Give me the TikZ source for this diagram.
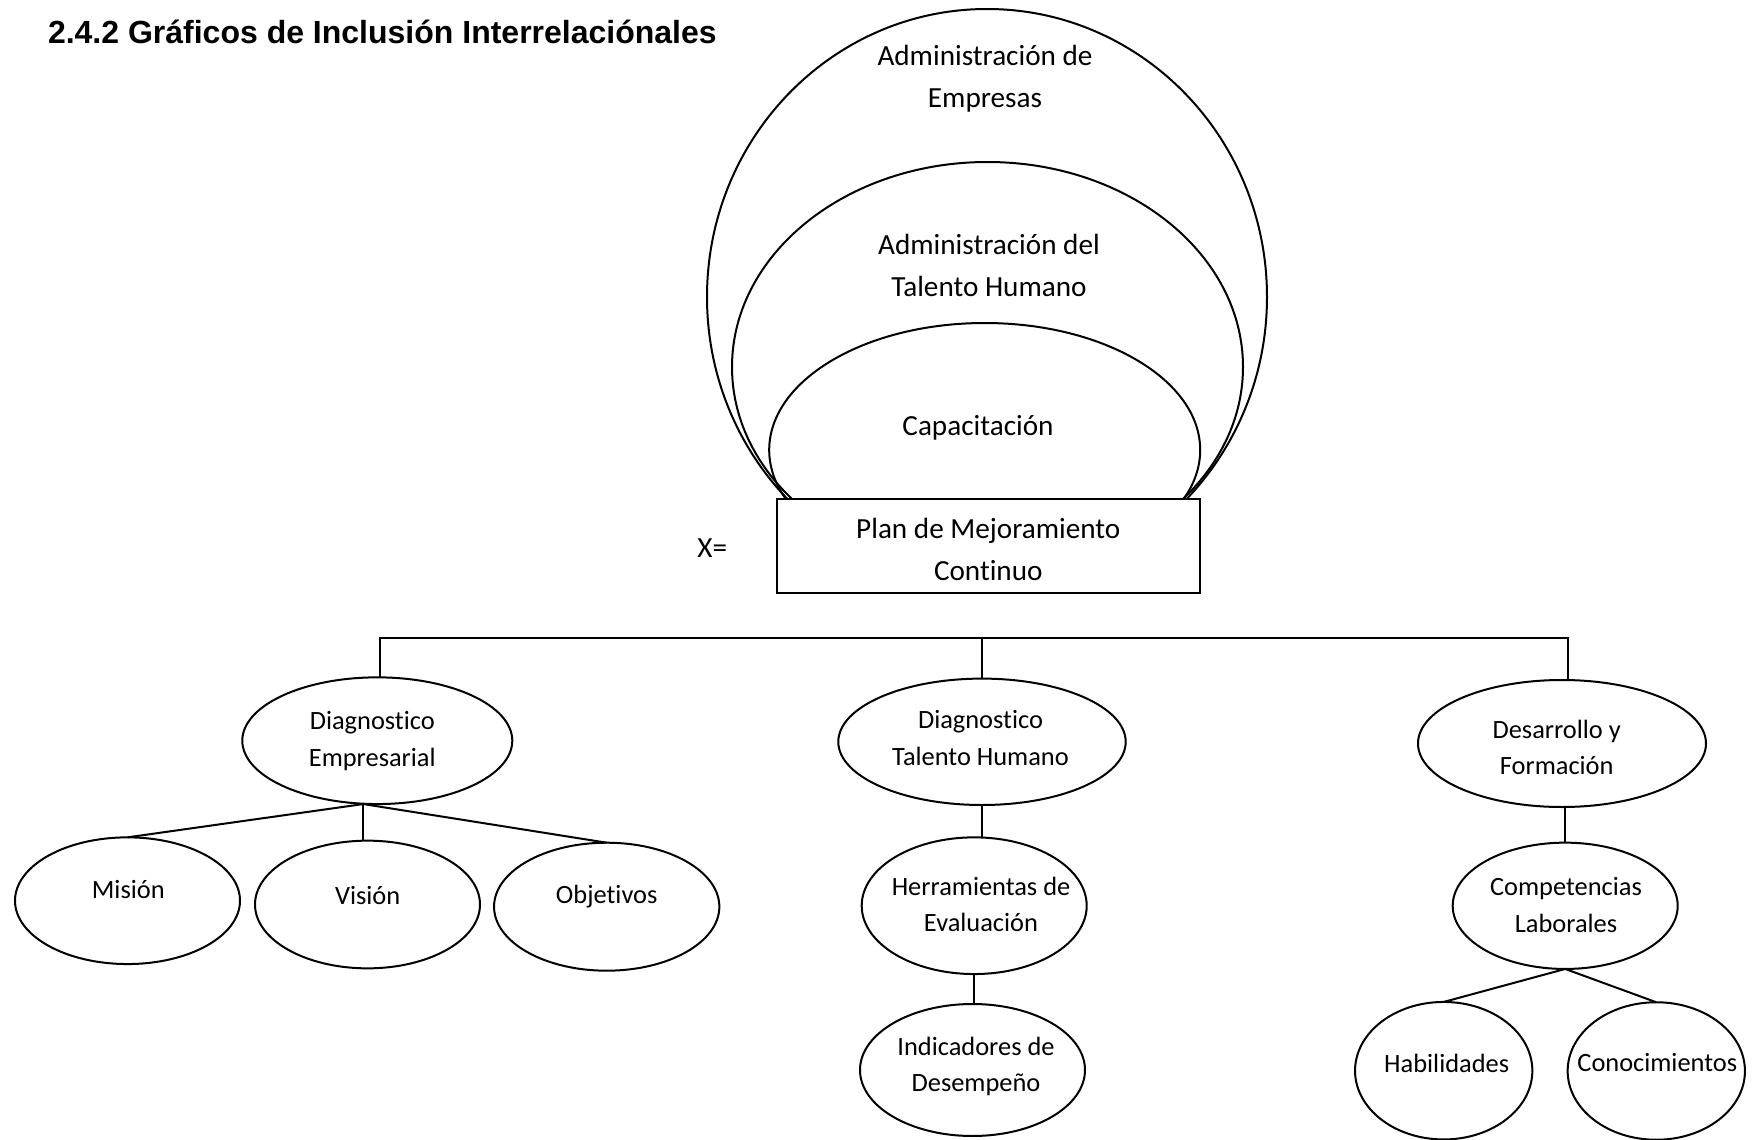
\documentclass[tikz,border=0pt]{standalone}
\usepackage{fontspec}
\setmainfont{Carlito}[Ligatures={NoCommon}]
\newfontfamily\headfont{Liberation Sans}
\usetikzlibrary{shapes.geometric,calc}

\tikzset{
  every node/.style={inner sep=0pt, outer sep=0pt},
  oval/.style 2 args={ellipse, draw, line width=1pt, minimum width=#1pt, minimum height=#2pt},
  bigtxt/.style={align=center, font=\fontsize{14.6}{21}\selectfont},
  smalltxt/.style={align=center, font=\fontsize{13.2}{18.3}\selectfont},
  link/.style={line width=1pt},
}

\begin{document}
\begin{tikzpicture}[x=0.5pt, y=-0.5pt]
\useasboundingbox (0,0) rectangle (1753,1140);

% heading
\node[anchor=base west, font=\headfont\bfseries\fontsize{16}{19}\selectfont] (head) at (48,43)
  {2.4.2 Gráficos de Inclusión Interrelaciónales};

% nested inclusion ovals, cut off at the top edge of the box
\begin{scope}
  \clip (0,0) rectangle (1753,499);
  \node[oval={280}{288}] (emp) at (987,297) {};
  \node[oval={255.5}{205}] (tal) at (987.5,367) {};
  \node[oval={215.5}{127}] (cap) at (984.7,450) {};
\end{scope}
\node[bigtxt] (empT) at (985,79) {Administración de\\Empresas};
\node[bigtxt] (talT) at (989,265) {Administración del\\Talento Humano};
\node[bigtxt] (capT) at (978,428) {Capacitación};

% central box
\node[draw, line width=1.2pt, minimum width=211.5pt, minimum height=47.25pt] (plan) at (988.5,546) {};
\node[bigtxt] (planT) at (988.3,549) {Plan de Mejoramiento\\Continuo};
\node[bigtxt] (xeq) at (712.3,548.3) {X=};

% first level
\node[oval={135}{63.35}] (de) at (377.3,740.7) {};
\node[smalltxt] (deT) at (372.3,741) {Diagnostico\\Empresarial};
\node[oval={143.7}{63.2}] (dt) at (982,741.8) {};
\node[smalltxt] (dtT) at (980.5,738) {Diagnostico\\Talento Humano};
\node[oval={144}{63.5}] (df) at (1562,743.5) {};
\node[smalltxt] (dfT) at (1556.7,747.5) {Desarrollo y\\Formación};

% bus joining the first level
\coordinate (busL) at (380,638.3);
\coordinate (busR) at (1568.3,638.3);
\draw[link] (busL |- de.north) -- (busL) -- (busR) -- (busR |- df.north);
\draw[link] (dt.north) -- (dt.north |- busL);

% left branch
\node[oval={112.5}{63.35}] (mis) at (127.5,900.7) {};
\node[smalltxt] (misT) at (128.3,890) {Misión};
\node[oval={112.5}{63.85}] (vis) at (367.5,904.5) {};
\node[smalltxt] (visT) at (367.7,896) {Visión};
\node[oval={112.65}{64}] (obj) at (606.7,906.7) {};
\node[smalltxt] (objT) at (606.7,896.7) {Objetivos};
\coordinate (dej) at ($(de.south)+(-14,0)$);
\draw[link] (dej) -- (mis.north);
\draw[link] (dej) -- (dej |- vis.north);
\draw[link] (dej) -- (obj.north);

% middle branch
\node[oval={112.5}{68.35}] (he) at (974.2,905.7) {};
\node[smalltxt] (heT) at (981,904.3) {Herramientas de\\Evaluación};
\node[oval={112.5}{66}] (ind) at (972.5,1070) {};
\node[smalltxt] (indT) at (976,1066.5) {Indicadores de\\Desempeño};
\draw[link] (dt.south) -- (dt.south |- he.north);
\draw[link] (he.south) -- (he.south |- ind.north);

% right branch
\node[oval={112.5}{63.15}] (cl) at (1565.2,905.8) {};
\node[smalltxt] (clT) at (1566,905) {Competencias\\Laborales};
\node[oval={88.65}{68.75}] (hab) at (1443.7,1070.7) {};
\node[smalltxt] (habT) at (1446.7,1063.3) {Habilidades};
\node[oval={88.65}{68.75}] (con) at (1656.3,1071) {};
\node[smalltxt] (conT) at (1657.3,1063) {Conocimientos};
\draw[link] (cl.north) -- (cl.north |- df.south);
\draw[link] (cl.south) -- (hab.north);
\draw[link] (cl.south) -- (con.north);
\end{tikzpicture}
\end{document}
